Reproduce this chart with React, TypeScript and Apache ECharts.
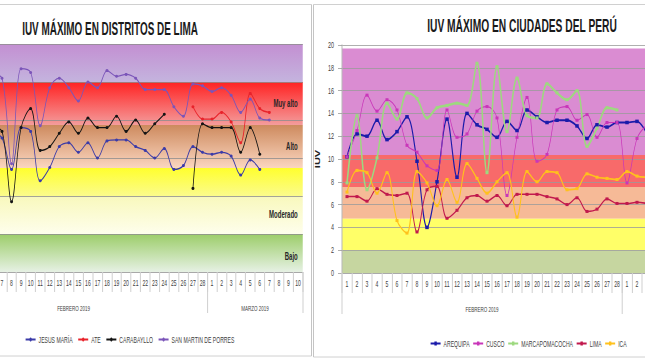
import React, { useEffect, useRef } from 'react';
import * as echarts from 'echarts';

const FONT = "'Liberation Sans', Arial, sans-serif";
// horizontal condensing of the whole drawing (the reference uses a very narrow face)
const K = 0.6;
const W = 645;
const H = 363;
const px = (x: number) => x / K;

// ---------- categories ----------
const dayLabels = [
  '1', '2', '3', '4', '5', '6', '7', '8', '9', '10', '11', '12', '13', '14',
  '15', '16', '17', '18', '19', '20', '21', '22', '23', '24', '25', '26', '27', '28',
  '1', '2', '3', '4', '5', '6', '7', '8', '9', '10',
];
const monthNames = ['FEBRERO 2019', 'MARZO 2019'];
const monthDays = [28, 10];

const leftTitle = 'IUV MÁXIMO EN DISTRITOS DE LIMA';
const rightTitle = 'IUV MÁXIMO EN CIUDADES DEL PERÚ';

// ---------- left chart: districts of Lima ----------
const leftNames = ['JESUS MARÍA', 'ATE', 'CARABAYLLO', 'SAN MARTIN DE PORRES'];
const jesusMaria = [
  null, null, null, null, null, 7.3, 7.05, 5.4, 7.6, 7.4, 4.8, 5.5, 6.6, 6.8,
  6.3, 6.8, 6.0, 6.9, 6.95, 6.95, 6.6, 6.4, 6.0, 6.5, 5.4, 5.6, 6.6, 6.3,
  6.2, 6.3, 6.1, 5.1, 5.9, 5.4, null, null, null, null,
];
const ate = [
  null, null, null, null, null, null, null, null, null, null, null, null, null, null,
  null, null, null, null, null, null, null, null, null, null, null, null, 8.7, 8.05,
  8.05, 8.4, 7.9, 6.8, 9.4, 8.6, 8.4, null, null, null,
];
const carabayllo = [
  null, null, null, null, null, 7.6, 7.4, 3.7, 7.6, 8.6, 6.4, 6.6, 7.3, 7.9,
  7.3, 8.1, 7.6, 7.6, 8.2, 7.4, 8.0, 7.3, 7.8, 8.3, null, null, 4.4, 7.8,
  7.6, 7.6, 7.6, 6.3, 7.6, 6.2, null, null, null, null,
];
const sanMartin = [
  null, null, null, null, null, 10.4, 10.2, 5.7, 10.7, 10.5, 7.7, 9.7, 10.2, 9.7,
  9.0, 10.0, 9.7, 10.6, 10.3, 10.4, 10.2, 9.6, 9.6, 9.6, 8.7, 8.2, 9.9, 9.8,
  9.5, 9.7, 9.3, 8.4, 9.1, 8.1, 8.0, null, null, null,
];
const leftColors = ['#3b3ba8', '#e8232b', '#141414', '#7b55b9'];

// ---------- right chart: cities of Peru ----------
const rightNames = ['AREQUIPA', 'CUSCO', 'MARCAPOMACOCHA', 'LIMA', 'ICA'];
const arequipa = [
  10.2, 12.2, 12.0, 13.4, 11.7, 12.4, 13.7, 9.8, 4.0, 8.0, 13.5, 8.4, 14.0, 13.0,
  12.6, 11.9, 13.3, 12.5, 14.3, 13.7, 13.2, 13.4, 13.4, 12.9, 11.8, 13.0, 12.8, 13.2,
  13.2, 13.3, 12.2, null, null, null, null, null, null, null,
];
const cusco = [
  10.2, 12.5, 15.6, 14.2, 15.2, 14.3, 11.2, 10.6, 9.4, 9.0, 14.3, 11.9, 12.2, 14.2,
  14.6, 13.6, 6.8, 11.9, 15.4, 9.8, 10.4, 14.3, 14.6, 13.4, 13.9, 11.9, 13.2, 13.2,
  7.9, 11.8, 13.0, null, null, null, null, null, null, null,
];
const marcapomacocha = [
  7.9, 13.8, 7.3, 10.1, 14.9, 13.5, 15.8, 15.3, 13.6, 14.5, 14.7, 14.9, 14.7, 18.4,
  8.8, 18.1, 12.4, 17.1, 13.8, 13.6, 16.6, 15.8, 15.2, 16.0, 11.1, 12.7, 14.5, 14.3,
  null, null, null, null, null, null, null, null, null, null,
];
const lima = [
  6.7, 6.7, 6.3, 7.4, 6.9, 6.8, 7.0, 3.6, 7.3, 7.6, 4.8, 5.5, 6.6, 6.8,
  6.3, 6.8, 5.9, 6.9, 6.9, 6.9, 6.7, 6.5, 6.0, 6.6, 5.4, 5.6, 6.5, 6.1,
  6.1, 6.2, 6.1, null, null, null, null, null, null, null,
];
const ica = [
  7.1, 9.0, 8.8, 7.0, 8.8, 4.6, 3.5, 8.9, 7.9, 5.9, 8.2, 6.2, 9.6, 8.3,
  7.0, 8.0, 8.8, 4.9, 8.9, 8.0, 8.9, 8.8, 7.3, 7.4, 8.7, 8.4, 8.3, 8.2,
  8.9, 8.5, 8.4, null, null, null, null, null, null, null,
];
const rightColors = ['#1b1baa', '#c936b9', '#9dd97f', '#c1194d', '#ffc11c'];
const rightWidths = [1.6, 1, 2.2, 1.3, 1.5];

// ---------- risk bands ----------
const leftBandFrom = [10, 7.74, 5.47, 4, 2, 0];
const leftBandTo = [12, 10, 7.74, 5.47, 4, 2];
const leftBandLabels = ['', 'Muy alto', 'Alto', '', 'Moderado', 'Bajo'];
const leftBandTop = ['#c38fd2', '#ff2222', '#cd8a5e', '#ffff2e', '#f8f8bc', '#9ccd69'];
const leftBandBottom = ['#c4b4de', '#f49c9c', '#fbd6c0', '#fbfb8c', '#fefeec', '#e6f1e4'];

const rightBandFrom = [10.35, 7.55, 4.75, 2, 0];
const rightBandTo = [19.7, 10.35, 7.55, 4.75, 2];
const rightBandColors = ['#da8cd2', '#f86a6a', '#f6ba97', '#ffff68', '#c6d6a0'];

function textWidth(text: string, font: string) {
  const ctx = document.createElement('canvas').getContext('2d');
  if (!ctx) return text.length * 10;
  ctx.font = font;
  return ctx.measureText(text).width;
}

function monthLabelMap() {
  const map: Record<number, string> = {};
  const starts: number[] = [];
  let s = 0;
  monthNames.forEach((m, i) => {
    starts.push(s);
    map[s + Math.floor((monthDays[i] - 1) / 2)] = m;
    s += monthDays[i];
  });
  return { map, starts };
}

function buildOption() {
  const { map, starts } = monthLabelMap();
  const leftGridLeft = -60.06;
  const leftGridWidth = 362.8;
  const rightGridLeft = 342;
  const rightGridWidth = 380;
  const vw = 1 / K; // stroke width that renders as 1px on vertical strokes

  // only the labels that fall inside the visible page are drawn
  const visible = (gl: number, band: number, c: number) => c >= 0 && c <= W - 4;
  const dayAxis = (gridIndex: number, gl: number, band: number) => ({
    type: 'category', gridIndex, data: dayLabels, position: 'bottom', boundaryGap: true, z: 4,
    axisLine: { show: true, onZero: false, lineStyle: { color: '#a8a8a8', width: 1 } },
    axisTick: { show: true, interval: 0, length: 20, lineStyle: { color: '#cfcfcf', width: vw } },
    axisLabel: {
      interval: (i: number) => visible(gl, band, gl + (i + 0.5) * band),
      fontSize: 8.5, color: '#404040', margin: 6, fontFamily: FONT,
    },
    splitLine: { show: false },
  });
  const monthAxis = (gridIndex: number, gl: number, band: number) => ({
    type: 'category', gridIndex, data: dayLabels, position: 'bottom', boundaryGap: true, z: 4,
    axisLine: { show: false, onZero: false },
    axisTick: { show: true, length: 41, interval: (i: number) => starts.includes(i),
      lineStyle: { color: '#cfcfcf', width: vw } },
    axisLabel: {
      interval: (i: number) => map[i] !== undefined && gl + (i + 1) * band + 25 <= W,
      formatter: (_v: string, i: number) => map[i] || '',
      fontSize: 7.5, color: '#404040', margin: 32, fontFamily: FONT,
      padding: [0, 0, 0, px(band)],
    },
    splitLine: { show: false },
  });

  const leftBandSeries = {
    type: 'line', name: 'bandsL', xAxisIndex: 0, yAxisIndex: 0, data: [], silent: true,
    markArea: {
      silent: true, z: 1,
      data: leftBandFrom.map((f, i) => [
        {
          yAxis: leftBandTo[i],
          itemStyle: {
            color: { type: 'linear', x: 0, y: 0, x2: 0, y2: 1, colorStops: [
              { offset: 0, color: leftBandTop[i] }, { offset: 1, color: leftBandBottom[i] }] },
          },
          label: {
            show: leftBandLabels[i] !== '', position: 'insideRight', distance: px(5),
            formatter: leftBandLabels[i], color: '#262626', fontSize: 10, fontWeight: 'bold', fontFamily: FONT,
            offset: leftBandLabels[i] === 'Bajo' ? [0, 4] : [0, 0],
          },
        },
        { yAxis: f },
      ]),
    },
  };
  const rightBandSeries = {
    type: 'line', name: 'bandsR', xAxisIndex: 2, yAxisIndex: 1, data: [], silent: true,
    markArea: {
      silent: true, z: 1,
      data: rightBandFrom.map((f, i) => [
        { yAxis: rightBandTo[i], itemStyle: { color: rightBandColors[i] }, label: { show: false } },
        { yAxis: f },
      ]),
    },
  };

  const leftData = [jesusMaria, ate, carabayllo, sanMartin];
  const rightData = [arequipa, cusco, marcapomacocha, lima, ica];

  const leftSeries = leftData.map((d, i) => ({
    name: leftNames[i], type: 'line', data: d, xAxisIndex: 0, yAxisIndex: 0, z: 5,
    smooth: 0.35, symbol: 'circle', symbolSize: [px(3), 3], showAllSymbol: true, connectNulls: false,
    lineStyle: { color: leftColors[i], width: 1.3 }, itemStyle: { color: leftColors[i] },
  }));
  const rightSeries = rightData.map((d, i) => ({
    name: rightNames[i], type: 'line', data: d, xAxisIndex: 2, yAxisIndex: 1, z: 5,
    smooth: 0.35, symbol: 'rect', symbolSize: i === 0 ? [px(3.5), 3.5] : [px(3), 3], showAllSymbol: true,
    connectNulls: false,
    lineStyle: { color: rightColors[i], width: rightWidths[i] * 1.15 }, itemStyle: { color: rightColors[i] },
  }));

  const tSize = 18;
  const tFont = `bold ${tSize}px ${FONT}`;
  const lScale = 176 / (K * textWidth(leftTitle, tFont));
  const rScale = 190 / (K * textWidth(rightTitle, tFont));

  const lineEl = (x1: number, y1: number, x2: number, y2: number, w: number) => ({
    type: 'line', silent: true, z: 0,
    shape: { x1: px(x1), y1, x2: px(x2), y2 },
    style: { stroke: '#c4c4c4', lineWidth: w },
  });

  const leftBand = leftGridWidth / dayLabels.length;
  const rightBand = rightGridWidth / dayLabels.length;

  return {
    animation: false,
    backgroundColor: '#ffffff',
    textStyle: { fontFamily: FONT },
    grid: [
      { left: px(leftGridLeft), top: 44, width: px(leftGridWidth), height: 228, outerBoundsMode: 'none' },
      { left: px(rightGridLeft), top: 45, width: px(rightGridWidth), height: 228, outerBoundsMode: 'none' },
    ],
    xAxis: [
      dayAxis(0, leftGridLeft, leftBand), monthAxis(0, leftGridLeft, leftBand),
      dayAxis(1, rightGridLeft, rightBand), monthAxis(1, rightGridLeft, rightBand),
    ],
    yAxis: [
      {
        type: 'value', gridIndex: 0, min: 0, max: 12, interval: 2, z: 4,
        axisLabel: { show: false }, axisLine: { show: false }, axisTick: { show: false },
        splitLine: { show: true, lineStyle: { color: '#8e8e8e', width: 1 } },
      },
      {
        type: 'value', gridIndex: 1, min: 0, max: 20, interval: 2, z: 4,
        name: 'IUV', nameLocation: 'middle', nameGap: px(17), nameRotate: 90,
        nameTextStyle: { fontSize: 11, fontWeight: 'bold', color: '#222', fontFamily: FONT },
        axisLabel: { fontSize: 9, color: '#404040', margin: px(8), fontFamily: FONT },
        axisLine: { show: true, lineStyle: { color: '#b8b8b8', width: vw } },
        axisTick: { show: true, length: px(4), lineStyle: { color: '#9a9a9a' } },
        splitLine: { show: true, lineStyle: { color: '#9a9a9a', width: 1 } },
      },
    ],
    legend: [
      {
        data: leftNames, left: px(22), top: 330, itemWidth: px(10), itemHeight: 5, itemGap: px(5),
        textStyle: { fontSize: 8.5, color: '#404040', fontFamily: FONT },
      },
      {
        data: rightNames, left: px(427), top: 334, itemWidth: px(10), itemHeight: 5, itemGap: px(3),
        textStyle: { fontSize: 8.5, color: '#404040', fontFamily: FONT },
      },
    ],
    graphic: [
      lineEl(0, 4.5, 311.5, 4.5, 1),
      lineEl(311.5, 4.5, 311.5, 356, vw),
      lineEl(0, 356, 311.5, 356, 1),
      lineEl(313.5, 4.5, 645, 4.5, 1),
      lineEl(313.5, 4.5, 313.5, 357, vw),
      lineEl(313.5, 357, 645, 357, 1),
      { type: 'text', z: 10, silent: true, x: px(110), y: 29, scaleX: lScale, scaleY: 1,
        style: { text: leftTitle, fontSize: tSize, fontWeight: 'bold', fontFamily: FONT, fill: '#1a1a1a',
          textAlign: 'center', textVerticalAlign: 'middle' } },
      { type: 'text', z: 10, silent: true, x: px(522), y: 26, scaleX: rScale, scaleY: 1,
        style: { text: rightTitle, fontSize: tSize, fontWeight: 'bold', fontFamily: FONT, fill: '#1a1a1a',
          textAlign: 'center', textVerticalAlign: 'middle' } },
    ],
    series: [leftBandSeries, rightBandSeries, ...leftSeries, ...rightSeries],
  };
}

export default function App() {
  const ref = useRef<HTMLDivElement>(null);
  useEffect(() => {
    const el = ref.current;
    if (!el) return;
    const chart = echarts.init(el, null, { renderer: 'svg' });
    chart.setOption(buildOption() as any);
    return () => chart.dispose();
  }, []);
  return (
    <div style={{ position: 'fixed', left: 0, top: 0, width: W, height: H, background: '#fff', overflow: 'hidden' }}>
      <div
        ref={ref}
        style={{ width: px(W), height: H, transform: `scaleX(${K})`, transformOrigin: '0 0' }}
      />
    </div>
  );
}
